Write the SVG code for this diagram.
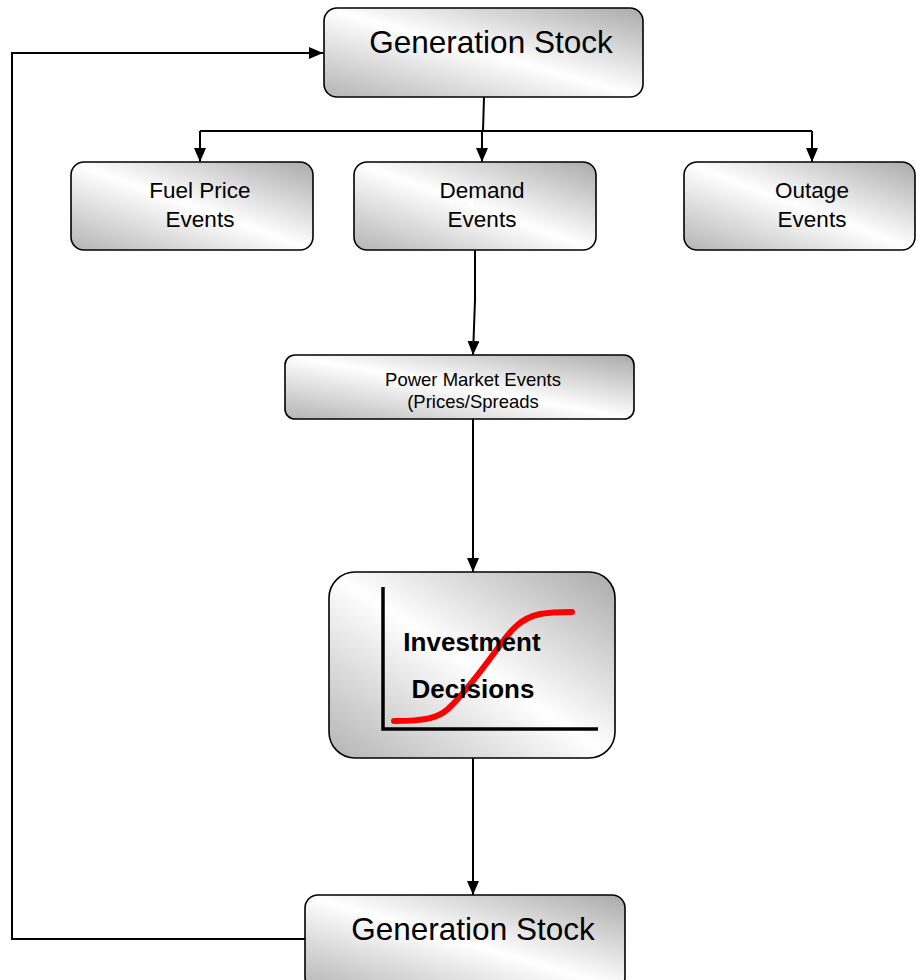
<svg xmlns="http://www.w3.org/2000/svg" width="916" height="980" viewBox="0 0 916 980">
<defs>
<linearGradient id="g" x1="0" y1="1" x2="1" y2="0">
<stop offset="0" stop-color="#b4b4b4"/>
<stop offset="0.5" stop-color="#ffffff"/>
<stop offset="1" stop-color="#aaaaaa"/>
</linearGradient>
<marker id="ah" markerWidth="14" markerHeight="12" refX="14" refY="6" orient="auto" markerUnits="userSpaceOnUse">
<path d="M0,0 L14,6 L0,12 Z" fill="#000"/>
</marker>
<style>
.box{fill:url(#g);stroke:#000;stroke-width:1.6}
.t{font-family:"Liberation Sans",Arial,sans-serif;fill:#000;text-anchor:middle}
.c{fill:none;stroke:#000;stroke-width:2}
</style>
</defs>
<rect width="916" height="980" fill="#fff"/>
<g id="connectors">
<path class="c" d="M305,939 H12 V53 H323" marker-end="url(#ah)"/>
<path class="c" d="M484,97 L483,131"/>
<path class="c" d="M200,131 H812"/>
<path class="c" d="M200,131 V162" marker-end="url(#ah)"/>
<path class="c" d="M482,131 V162" marker-end="url(#ah)"/>
<path class="c" d="M812,131 V162" marker-end="url(#ah)"/>
<path class="c" d="M475,250 V300 L473,355" marker-end="url(#ah)"/>
<path class="c" d="M473,419 V572" marker-end="url(#ah)"/>
<path class="c" d="M473,758 V895" marker-end="url(#ah)"/>
</g>
<g id="gen-top">
<rect class="box" x="324" y="8" width="319" height="89" rx="13"/>
<text class="t" x="491" y="53" font-size="31.5">Generation Stock</text>
</g>
<g id="fuel">
<rect class="box" x="71" y="162" width="242" height="88" rx="13"/>
<text class="t" x="200" y="198" font-size="22.5">Fuel Price</text>
<text class="t" x="200" y="227" font-size="22.5">Events</text>
</g>
<g id="demand">
<rect class="box" x="354" y="162" width="242" height="88" rx="13"/>
<text class="t" x="482" y="198" font-size="22.5">Demand</text>
<text class="t" x="482" y="227" font-size="22.5">Events</text>
</g>
<g id="outage">
<rect class="box" x="684" y="162" width="231" height="88" rx="13"/>
<text class="t" x="812" y="198" font-size="22.5">Outage</text>
<text class="t" x="812" y="227" font-size="22.5">Events</text>
</g>
<g id="power">
<rect class="box" x="285" y="355" width="349" height="64" rx="10"/>
<text class="t" x="473" y="386" font-size="18.5">Power Market Events</text>
<text class="t" x="473" y="408" font-size="18.5">(Prices/Spreads</text>
</g>
<g id="investment">
<rect class="box" x="329" y="572" width="286" height="186" rx="26"/>
<path d="M383,587 V729 H598" fill="none" stroke="#000" stroke-width="3.5"/>
<path d="M394,721 C425,721 438,718 448,709 C465,693 480,672 495,652 C510,631 520,618 540,614 C552,612 562,612 572,612" fill="none" stroke="#ff0000" stroke-width="6" stroke-linecap="round"/>
<text class="t" x="472" y="651" font-size="26" font-weight="bold">Investment</text>
<text class="t" x="473" y="698" font-size="26" font-weight="bold">Decisions</text>
</g>
<g id="gen-bottom">
<rect class="box" x="305" y="895" width="320" height="95" rx="13"/>
<text class="t" x="473" y="940" font-size="31.5">Generation Stock</text>
</g>
</svg>
